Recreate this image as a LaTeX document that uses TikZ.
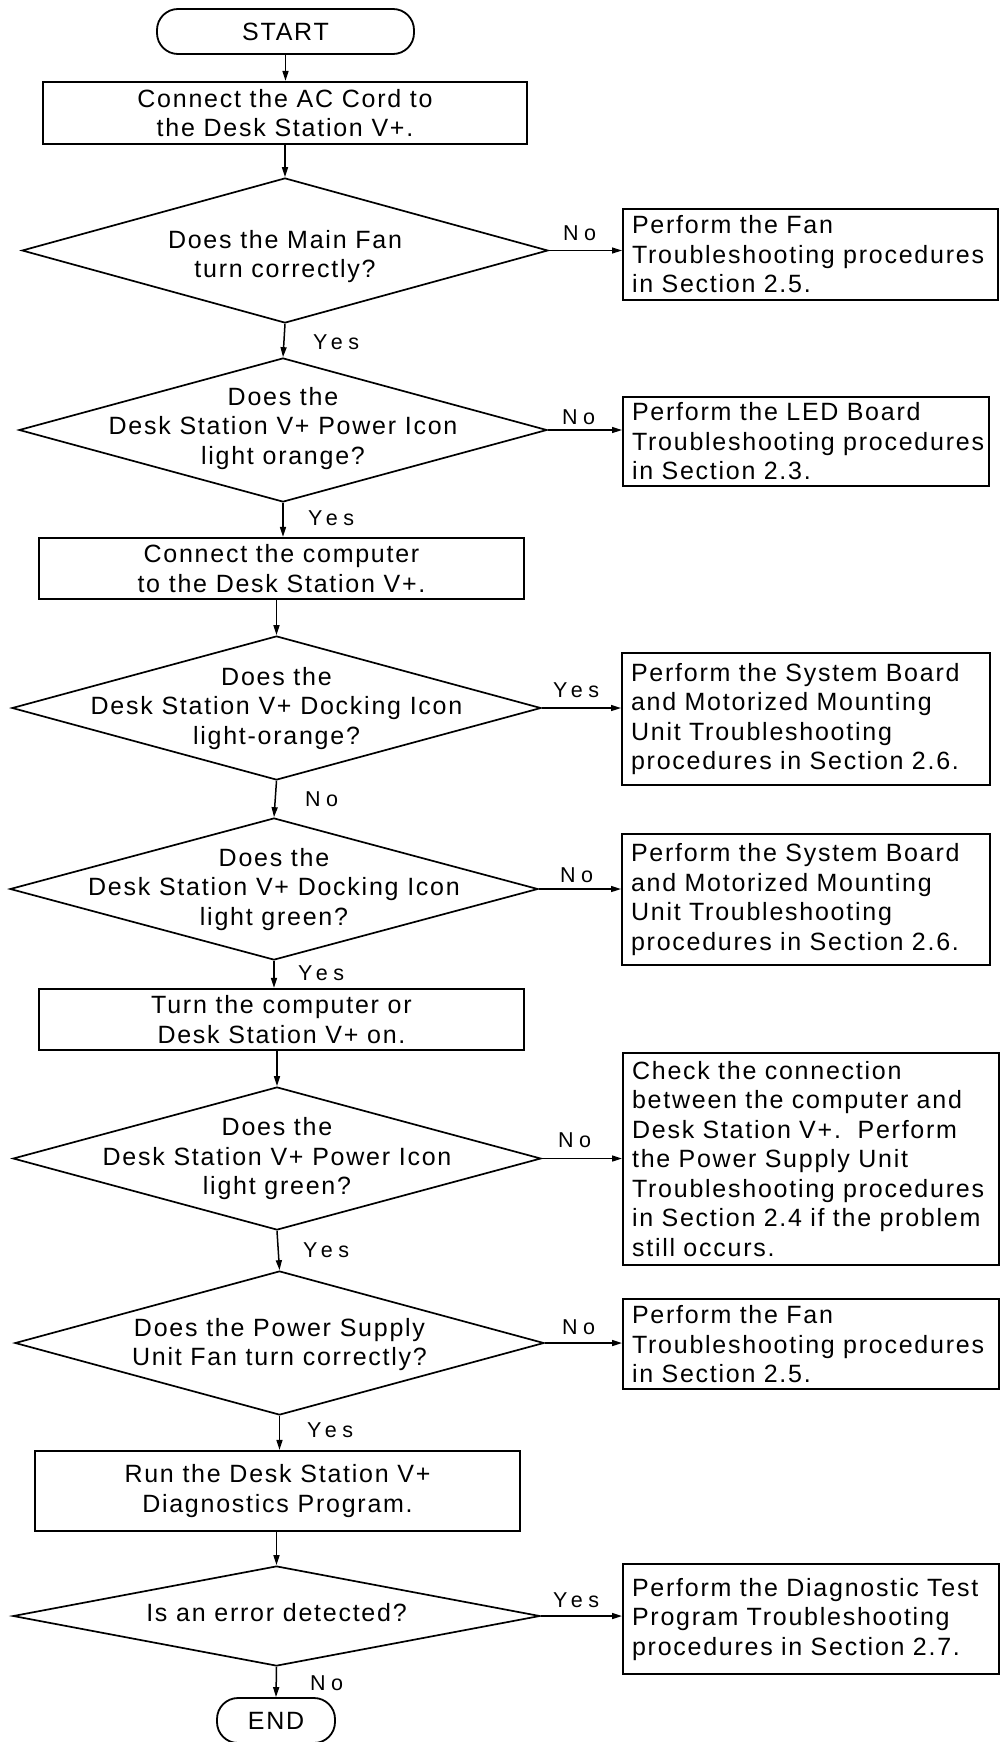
\documentclass[tikz,border=0pt]{standalone}
\usepackage{fontspec}
\setmainfont{Liberation Sans}[LetterSpace=7]
\newfontfamily\lblfont{Liberation Sans}[LetterSpace=25]
\usetikzlibrary{shapes.geometric,arrows.meta}
\begin{document}
\begin{tikzpicture}[x=1pt,y=-1pt,
  every node/.style={font=\fontsize{25}{29.5}\selectfont},
  term/.style={draw, line width=1.8pt, rounded corners=21pt, inner sep=0pt},
  pbox/.style={draw, line width=2.1pt, align=center, inner sep=0pt},
  dia/.style={draw, diamond, line width=1.7pt, inner sep=0pt},
  dtext/.style={align=center, inner sep=0pt},
  rbox/.style={draw, line width=2.1pt, align=left, inner xsep=9pt, inner ysep=0pt, anchor=north west},
  lbl/.style={font=\lblfont\fontsize{21.5}{24}\selectfont, inner sep=0pt, anchor=west},
  arr/.style={line width=1.5pt, -{Triangle[length=10pt,width=6pt]}}
]
\useasboundingbox (0,0) rectangle (999,1742);

% left column
\node[term, minimum width=257pt, minimum height=45pt] (start) at (285.5,31.5) {START};
\node[pbox, minimum width=484pt, minimum height=62pt] (b1) at (285,113) {Connect the AC Cord to\\the Desk Station V+.};

\node[dia, minimum width=526pt, minimum height=145pt] (d1) at (285,250.5) {};
\node[dtext] (t1) at (285,256.4) {Does the Main Fan\\turn correctly?};

\node[dia, minimum width=528pt, minimum height=144pt] (d2) at (283,430) {};
\node[dtext] (t2) at (283,428.2) {Does the\\Desk Station V+ Power Icon\\light orange?};

\node[pbox, minimum width=485pt, minimum height=61pt] (b2) at (281.5,568.5) {Connect the computer\\to the Desk Station V+.};

\node[dia, minimum width=529pt, minimum height=144pt] (d3) at (276.5,708) {};
\node[dtext] (t3) at (276.5,708.2) {Does the\\Desk Station V+ Docking Icon\\light-orange?};

\node[dia, minimum width=528pt, minimum height=142pt] (d4) at (274,889) {};
\node[dtext] (t4) at (274,889.2) {Does the\\Desk Station V+ Docking Icon\\light green?};

\node[pbox, minimum width=485pt, minimum height=61pt] (b3) at (281.5,1019.5) {Turn the computer or\\Desk Station V+ on.};

\node[dia, minimum width=528pt, minimum height=143pt] (d5) at (277,1158.5) {};
\node[dtext] (t5) at (277,1158.7) {Does the\\Desk Station V+ Power Icon\\light green?};

\node[dia, minimum width=529pt, minimum height=144pt] (d6) at (279.5,1343) {};
\node[dtext] (t6) at (279.5,1344.7) {Does the Power Supply\\Unit Fan turn correctly?};

\node[pbox, minimum width=485pt, minimum height=80pt] (b4) at (277.5,1491) {Run the Desk Station V+\\Diagnostics Program.};

\node[dia, minimum width=527pt, minimum height=100pt] (d7) at (276.5,1616) {};
\node[dtext] (t7) at (276.5,1613) {Is an error detected?};

\node[term, minimum width=118pt, minimum height=45pt] (end) at (276,1720.5) {END};

% right column
\node[rbox, text width=357pt, minimum height=91pt] (r1) at (622,208)
  {\mbox{Perform the Fan}\\\mbox{Troubleshooting procedures}\\\mbox{in Section 2.5.}};
\node[rbox, text width=348pt, minimum height=89pt] (r2) at (622,396)
  {\mbox{Perform the LED Board}\\\mbox{Troubleshooting procedures}\\\mbox{in Section 2.3.}};
\node[rbox, text width=350pt, minimum height=132pt] (r3) at (621,652)
  {\mbox{Perform the System Board}\\\mbox{and Motorized Mounting}\\\mbox{Unit Troubleshooting}\\\mbox{procedures in Section 2.6.}};
\node[rbox, text width=350pt, minimum height=131pt] (r4) at (621,833)
  {\mbox{Perform the System Board}\\\mbox{and Motorized Mounting}\\\mbox{Unit Troubleshooting}\\\mbox{procedures in Section 2.6.}};
\node[rbox, text width=358pt, minimum height=212pt] (r5) at (622,1052)
  {\mbox{Check the connection}\\\mbox{between the computer and}\\\mbox{Desk Station V+.\ \ Perform}\\\mbox{the Power Supply Unit}\\\mbox{Troubleshooting procedures}\\\mbox{in Section 2.4 if the problem}\\\mbox{still occurs.}};
\node[rbox, text width=358pt, minimum height=90pt] (r6) at (622,1298)
  {\mbox{Perform the Fan}\\\mbox{Troubleshooting procedures}\\\mbox{in Section 2.5.}};
\node[rbox, text width=358pt, minimum height=110pt] (r7) at (622,1563)
  {\mbox{Perform the Diagnostic Test}\\\mbox{Program Troubleshooting}\\\mbox{procedures in Section 2.7.}};

% vertical connectors
\draw[arr] (start.south) -- (start.south |- b1.north);
\draw[arr] (b1.south) -- (d1.north);
\draw[arr] (d1.south) -- (d2.north);
\draw[arr] (d2.south) -- (d2.south |- b2.north);
\draw[arr] (d3.north |- b2.south) -- (d3.north);
\draw[arr] (d3.south) -- (d4.north);
\draw[arr] (d4.south) -- (d4.south |- b3.north);
\draw[arr] (d5.north |- b3.south) -- (d5.north);
\draw[arr] (d5.south) -- (d6.north);
\draw[arr] (d6.south) -- (d6.south |- b4.north);
\draw[arr] (d7.north |- b4.south) -- (d7.north);
\draw[arr] (d7.south) -- (end.north);

% horizontal connectors
\draw[arr] (d1.east) -- (d1.east -| r1.west);
\draw[arr] (d2.east) -- (d2.east -| r2.west);
\draw[arr] (d3.east) -- (d3.east -| r3.west);
\draw[arr] (d4.east) -- (d4.east -| r4.west);
\draw[arr] (d5.east) -- (d5.east -| r5.west);
\draw[arr] (d6.east) -- (d6.east -| r6.west);
\draw[arr] (d7.east) -- (d7.east -| r7.west);

% labels
\node[lbl] (ly1) at (313,342) {Yes};
\node[lbl] (ly2) at (308,518) {Yes};
\node[lbl] (ln3) at (305,799) {No};
\node[lbl] (ly4) at (298,973) {Yes};
\node[lbl] (ly5) at (303,1250) {Yes};
\node[lbl] (ly6) at (307,1430) {Yes};
\node[lbl] (ln7) at (310,1683) {No};
\node[lbl] (rn1) at (563,233) {No};
\node[lbl] (rn2) at (562,417) {No};
\node[lbl] (ry3) at (553,690) {Yes};
\node[lbl] (rn4) at (560,875) {No};
\node[lbl] (rn5) at (558,1140) {No};
\node[lbl] (rn6) at (562,1327) {No};
\node[lbl] (ry7) at (553,1600) {Yes};
\end{tikzpicture}
\end{document}
